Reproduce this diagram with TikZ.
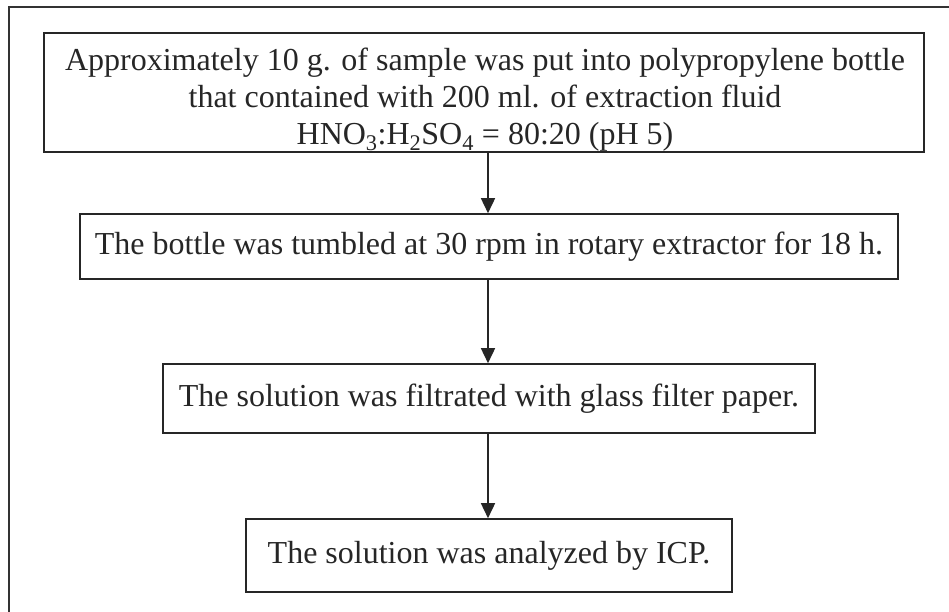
\documentclass[tikz,border=0pt]{standalone}
\usepackage{fontspec}
\setmainfont{Liberation Serif}
\usetikzlibrary{arrows.meta}
\tikzset{
  stepbox/.style={draw=black!85, line width=1.6pt, rectangle, inner sep=0pt},
  steptext/.style={font=\fontsize{32}{37}\selectfont, text=black!85, align=center, inner sep=0pt},
  arr/.style={draw=black!85, line width=1.6pt, -{Triangle[length=15pt,width=14pt]}},
  frame/.style={draw=black!80, line width=1.8pt}
}
\begin{document}
\begin{tikzpicture}[x=1pt,y=-1pt]
\useasboundingbox (0,0) rectangle (949,612);
% outer frame (cropped at right and bottom)
\coordinate (fa) at (9,612);
\coordinate (fb) at (9,7);
\coordinate (fc) at (949,7);
\draw[frame] (fa) -- (fb) -- (fc);
% boxes
\node[stepbox, minimum width=880pt, minimum height=119pt] (b1) at (484,92.5) {};
\node[steptext, anchor=north] (t1) at (485,48) {Approximately 10 g. of sample was put into polypropylene bottle\\that contained with 200 ml. of extraction fluid\\HNO\textsubscript{3}:H\textsubscript{2}SO\textsubscript{4} = 80:20 (pH 5)};
\node[stepbox, steptext, minimum width=818pt, minimum height=65pt] (b2) at (489,246.5) {The bottle was tumbled at 30 rpm in rotary extractor for 18 h.};
\node[stepbox, steptext, minimum width=652pt, minimum height=69pt] (b3) at (489,398.5) {The solution was filtrated with glass filter paper.};
\node[stepbox, steptext, minimum width=486pt, minimum height=73pt] (b4) at (489,555.5) {The solution was analyzed by ICP.};
% arrows
\coordinate (ax) at (488,0);
\draw[arr] (b1.south -| ax) -- (b2.north -| ax);
\draw[arr] (b2.south -| ax) -- (b3.north -| ax);
\draw[arr] (b3.south -| ax) -- (b4.north -| ax);
\end{tikzpicture}
\end{document}
